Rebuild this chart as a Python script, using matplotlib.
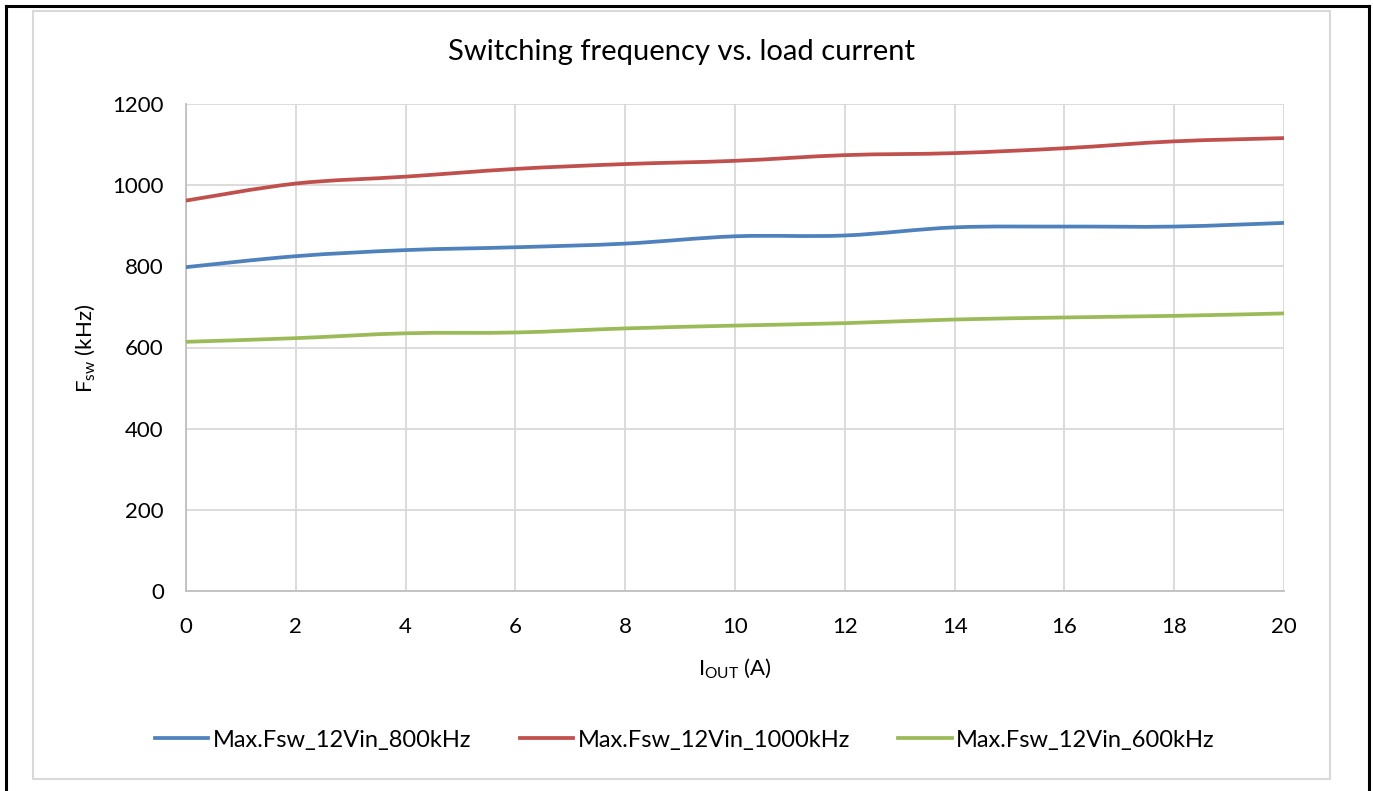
import matplotlib
matplotlib.use("Agg")
import matplotlib.pyplot as plt
import numpy as np
from matplotlib.path import Path
from matplotlib.patches import PathPatch, Rectangle
from matplotlib.lines import Line2D

plt.rcParams['font.family'] = ['Lato', 'DejaVu Sans']
plt.rcParams['mathtext.fontset'] = 'custom'
plt.rcParams['mathtext.rm'] = 'Lato'
plt.rcParams['mathtext.it'] = 'Lato'

# ---- data ----
iout = [0, 2, 4, 6, 8, 10, 12, 14, 16, 18, 20]
fsw_800 = [798, 825, 840, 847, 856, 874, 876, 896, 898, 898, 907]
fsw_1000 = [962, 1004, 1021, 1040, 1052, 1060, 1074, 1079, 1091, 1108, 1116]
fsw_600 = [614, 623, 635, 637, 647, 654, 660, 669, 674, 678, 684]
series_names = ["Max.Fsw_12Vin_800kHz", "Max.Fsw_12Vin_1000kHz", "Max.Fsw_12Vin_600kHz"]
colors = ["#4F81BD", "#C0504D", "#9BBB59"]
xticks = [0, 2, 4, 6, 8, 10, 12, 14, 16, 18, 20]
yticks = [0, 200, 400, 600, 800, 1000, 1200]

W, H = 1373, 791
fig = plt.figure(figsize=(W / 100, H / 100), dpi=100)
fig.patch.set_facecolor("white")

# Borders
fig.add_artist(Rectangle((33 / W, 1 - 779 / H), (1330 - 33) / W, (779 - 11) / H,
                         transform=fig.transFigure, fill=False, edgecolor="#d9d9d9", linewidth=1.5))
for xs, ys in [([6 / W, 6 / W], [0, 1 - 6 / H]),
               ([6 / W, 1369 / W], [1 - 6 / H, 1 - 6 / H]),
               ([1369 / W, 1369 / W], [1 - 6 / H, 0])]:
    fig.add_artist(Line2D(xs, ys, transform=fig.transFigure, color="black", linewidth=2.2))

ax = fig.add_axes([186 / W, 1 - 591 / H, (1284 - 186) / W, (591 - 104) / H])
ax.set_xlim(0, 20)
ax.set_ylim(0, 1200)
ax.set_xticks(xticks)
ax.set_yticks(yticks)
ax.grid(True, color="#d9d9d9", linewidth=1.3)
ax.set_axisbelow(True)
for s in ["top", "right"]:
    ax.spines[s].set_visible(False)
for s in ["left", "bottom"]:
    ax.spines[s].set_color("#bfbfbf")
    ax.spines[s].set_linewidth(1.3)
ax.tick_params(length=0, labelsize=16, colors="black")
ax.tick_params(axis="y", pad=16)
ax.tick_params(axis="x", pad=19)


def smooth_path(x, y):
    x = np.asarray(x, float)
    y = np.asarray(y, float)
    n = len(x)
    verts = [(x[0], y[0])]
    codes = [Path.MOVETO]
    for i in range(n - 1):
        i0 = max(i - 1, 0)
        i3 = min(i + 2, n - 1)
        c1 = (x[i] + (x[i + 1] - x[i0]) / 6, y[i] + (y[i + 1] - y[i0]) / 6)
        c2 = (x[i + 1] - (x[i3] - x[i]) / 6, y[i + 1] - (y[i3] - y[i]) / 6)
        verts += [c1, c2, (x[i + 1], y[i + 1])]
        codes += [Path.CURVE4] * 3
    return Path(verts, codes)


for vals, c in zip([fsw_800, fsw_1000, fsw_600], colors):
    ax.add_patch(PathPatch(smooth_path(iout, vals), fill=False, edgecolor=c,
                           linewidth=2.7, capstyle="round", joinstyle="round", zorder=3))

fig.text(681 / W, 1 - 52 / H, "Switching frequency vs. load current",
         ha="center", va="center", fontsize=21)
fig.text(85 / W, 1 - 348 / H, r"F$_{\mathregular{sw}}$ (kHz)", rotation=90,
         ha="center", va="center", fontsize=16)
fig.text(735 / W, 1 - 668 / H, r"I$_{\mathregular{OUT}}$ (A)",
         ha="center", va="center", fontsize=16)

handles = [Line2D([], [], color=c, linewidth=2.7) for c in colors]
fig.legend(handles, series_names, loc="center", bbox_to_anchor=(685 / W, 1 - 740 / H),
           ncol=3, frameon=False, fontsize=17, handlelength=2.25, handletextpad=0.2,
           columnspacing=2.05)

fig.savefig("out.png", dpi=100)
